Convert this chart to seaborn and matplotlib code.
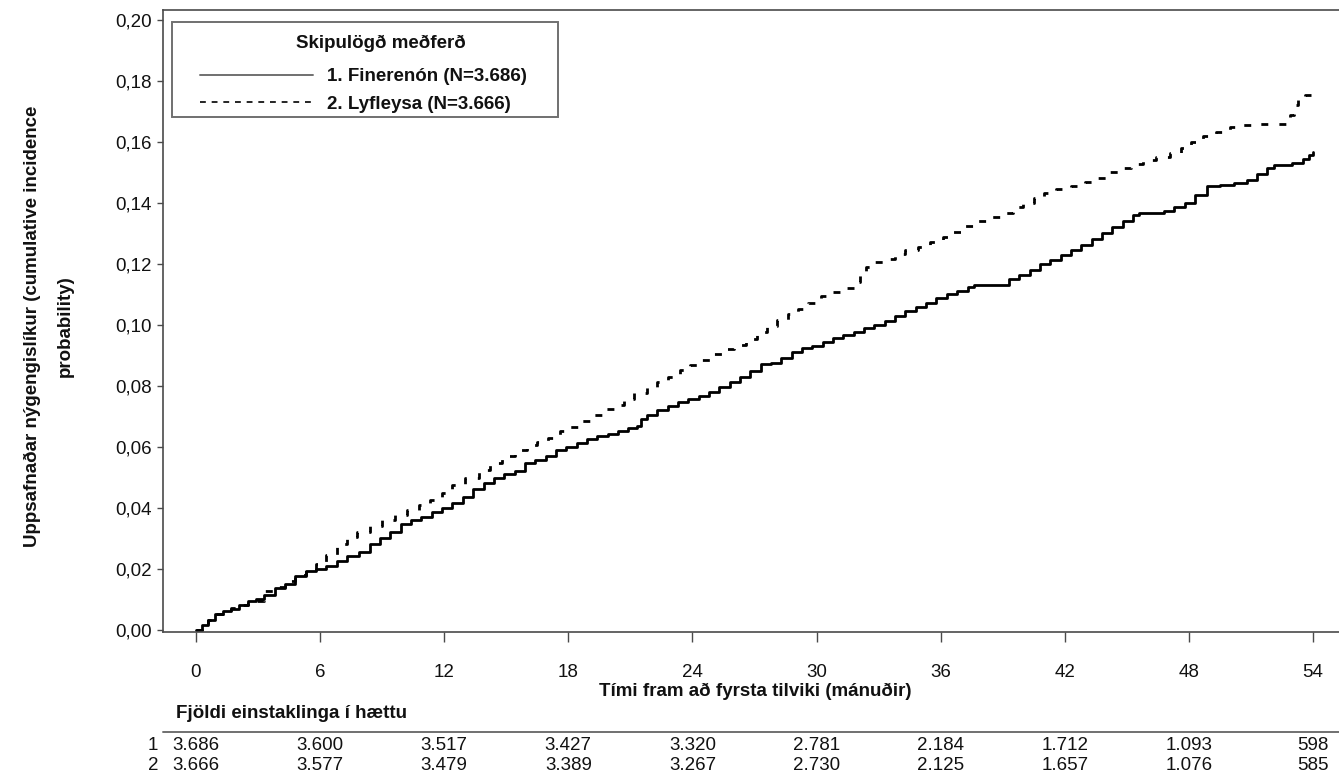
import numpy as np
import pandas as pd
import matplotlib
matplotlib.use("Agg")
import matplotlib.pyplot as plt
import seaborn as sns
from matplotlib.lines import Line2D
from matplotlib.patches import Rectangle
from matplotlib.transforms import blended_transform_factory

# ---------------- data ----------------
time_fin = [0.0, 0.3, 0.6, 0.9, 1.3, 1.7, 2.1, 2.5, 2.9, 3.3, 3.8, 4.3, 4.8, 5.3, 5.8,
            6.3, 6.8, 7.3, 7.9, 8.4, 8.9, 9.4, 9.9, 10.4, 10.9, 11.4, 11.9, 12.4, 12.9,
            13.4, 13.9, 14.4, 14.9, 15.4, 15.9, 16.4, 16.9, 17.4, 17.9, 18.4, 18.9, 19.4,
            19.9, 20.4, 20.9, 21.3, 21.5, 21.8, 22.3, 22.8, 23.3, 23.8, 24.3, 24.8, 25.3,
            25.8, 26.3, 26.8, 27.3, 27.8, 28.3, 28.8, 29.3, 29.8, 30.3, 30.8, 31.3, 31.8,
            32.3, 32.8, 33.3, 33.8, 34.3, 34.8, 35.3, 35.8, 36.3, 36.8, 37.3, 37.6, 38.9,
            39.3, 39.8, 40.3, 40.8, 41.3, 41.8, 42.3, 42.8, 43.3, 43.8, 44.3, 44.8, 45.3,
            45.6, 46.8, 47.3, 47.8, 48.3, 48.9, 49.5, 50.2, 50.8, 51.3, 51.8, 52.1, 53.0,
            53.5, 53.8, 54.0]
cif_fin = [0.0000, 0.0015, 0.0030, 0.0050, 0.0062, 0.0068, 0.0080, 0.0095, 0.0100, 0.0115,
           0.0135, 0.0150, 0.0175, 0.0193, 0.0200, 0.0210, 0.0225, 0.0240, 0.0255, 0.0282,
           0.0300, 0.0320, 0.0345, 0.0358, 0.0370, 0.0385, 0.0398, 0.0415, 0.0435, 0.0460,
           0.0480, 0.0498, 0.0510, 0.0520, 0.0545, 0.0555, 0.0570, 0.0588, 0.0600, 0.0612,
           0.0625, 0.0635, 0.0643, 0.0650, 0.0660, 0.0669, 0.0690, 0.0705, 0.0720, 0.0735,
           0.0748, 0.0758, 0.0765, 0.0780, 0.0795, 0.0812, 0.0830, 0.0850, 0.0871, 0.0875,
           0.0890, 0.0912, 0.0925, 0.0932, 0.0945, 0.0958, 0.0968, 0.0975, 0.0990, 0.1000,
           0.1012, 0.1028, 0.1045, 0.1058, 0.1072, 0.1088, 0.1100, 0.1112, 0.1125, 0.1129,
           0.1132, 0.1150, 0.1165, 0.1180, 0.1200, 0.1214, 0.1230, 0.1245, 0.1262, 0.1280,
           0.1300, 0.1320, 0.1340, 0.1360, 0.1367, 0.1372, 0.1385, 0.1400, 0.1425, 0.1455,
           0.1460, 0.1465, 0.1475, 0.1495, 0.1515, 0.1524, 0.1530, 0.1545, 0.1558, 0.1566]

time_pla = [0.0, 0.3, 0.6, 0.9, 1.3, 1.7, 2.1, 2.5, 2.9, 3.3, 3.8, 4.3, 4.8, 5.3, 5.8,
            6.3, 6.8, 7.3, 7.8, 8.4, 9.0, 9.6, 10.2, 10.8, 11.3, 11.9, 12.4, 13.0, 13.7,
            14.2, 14.8, 15.4, 16.0, 16.5, 17.0, 17.6, 18.1, 18.6, 19.2, 19.7, 20.2, 20.7,
            21.2, 21.8, 22.3, 22.8, 23.4, 23.9, 24.4, 25.0, 25.5, 26.0, 26.6, 27.1, 27.6,
            28.1, 28.6, 29.1, 29.6, 30.2, 30.7, 31.2, 31.8, 32.1, 32.4, 32.8, 33.2, 33.8,
            34.3, 34.9, 35.5, 36.1, 36.6, 37.1, 37.7, 38.3, 38.9, 39.5, 40.0, 40.5, 41.0,
            41.6, 42.3, 43.0, 43.6, 44.0, 44.6, 45.2, 45.8, 46.4, 47.1, 47.6, 48.1, 48.7,
            49.3, 50.0, 50.5, 51.1, 52.7, 52.9, 53.1, 53.3, 53.6, 54.0]
cif_pla = [0.0000, 0.0015, 0.0030, 0.0050, 0.0062, 0.0070, 0.0080, 0.0088, 0.0095, 0.0125,
           0.0140, 0.0160, 0.0178, 0.0195, 0.0215, 0.0245, 0.0280, 0.0305, 0.0320, 0.0340,
           0.0359, 0.0375, 0.0392, 0.0408, 0.0424, 0.0448, 0.0473, 0.0498, 0.0525, 0.0545,
           0.0568, 0.0590, 0.0605, 0.0617, 0.0630, 0.0650, 0.0665, 0.0685, 0.0705, 0.0724,
           0.0738, 0.0755, 0.0775, 0.0796, 0.0812, 0.0830, 0.0852, 0.0868, 0.0885, 0.0905,
           0.0920, 0.0935, 0.0955, 0.0976, 0.0995, 0.1015, 0.1034, 0.1052, 0.1070, 0.1093,
           0.1108, 0.1122, 0.1142, 0.1165, 0.1190, 0.1205, 0.1217, 0.1232, 0.1245, 0.1256,
           0.1272, 0.1289, 0.1305, 0.1325, 0.1340, 0.1355, 0.1367, 0.1385, 0.1400, 0.1415,
           0.1432, 0.1445, 0.1455, 0.1468, 0.1481, 0.1500, 0.1515, 0.1528, 0.1540, 0.1552,
           0.1563, 0.1580, 0.1599, 0.1618, 0.1632, 0.1648, 0.1655, 0.1660, 0.1664, 0.1690,
           0.1720, 0.1742, 0.1755, 0.1755]

x_ticks = [0, 6, 12, 18, 24, 30, 36, 42, 48, 54]
y_ticks = [0.00, 0.02, 0.04, 0.06, 0.08, 0.10, 0.12, 0.14, 0.16, 0.18, 0.20]
y_tick_labels = ["0,00", "0,02", "0,04", "0,06", "0,08", "0,10",
                 "0,12", "0,14", "0,16", "0,18", "0,20"]
risk_fin = ["3.686", "3.600", "3.517", "3.427", "3.320", "2.781", "2.184", "1.712", "1.093", "598"]
risk_pla = ["3.666", "3.577", "3.479", "3.389", "3.267", "2.730", "2.125", "1.657", "1.076", "585"]
risk_rows = ["1", "2"]
series_labels = ["1. Finerenón (N=3.686)", "2. Lyfleysa (N=3.666)"]
legend_title = "Skipulögð meðferð"
x_label = "Tími fram að fyrsta tilviki (mánuðir)"
y_label = "Uppsafnaðar nýgengislíkur (cumulative incidence\nprobability)"
risk_title = "Fjöldi einstaklinga í hættu"

# ---------------- style ----------------
sns.set_theme(style="white")
plt.rcParams['font.family'] = ['Liberation Sans', 'DejaVu Sans']
FS = 13.5
W, H = 1339, 778
spine_c = "#4a4a4a"
txt_c = "#111111"

fig = plt.figure(figsize=(W / 100, H / 100), dpi=100)
fig.patch.set_facecolor("white")
ax = fig.add_axes([163 / W, 1 - 632 / H, (W - 163) / W, (632 - 10) / H])
ax.set_facecolor("white")

df_fin = pd.DataFrame({"t": time_fin, "p": cif_fin})
df_pla = pd.DataFrame({"t": time_pla, "p": cif_pla})
sns.lineplot(data=df_fin, x="t", y="p", ax=ax, color="black", linewidth=2.0,
             drawstyle="steps-post", estimator=None, sort=False, legend=False)
sns.lineplot(data=df_pla, x="t", y="p", ax=ax, color="black", linewidth=2.0,
             linestyle=(0, (2.5, 4.0)), drawstyle="steps-post",
             estimator=None, sort=False, legend=False)

ax.set_xlim(-1.595, 55.26)
ax.set_ylim(-0.0008, 0.2033)
ax.set_xticks(x_ticks)
ax.set_xticklabels([str(v) for v in x_ticks])
ax.set_yticks(y_ticks)
ax.set_yticklabels(y_tick_labels)
ax.tick_params(axis="x", direction="out", length=7, width=1, color=spine_c,
               pad=16, labelsize=FS, labelcolor=txt_c, bottom=True)
ax.tick_params(axis="y", direction="out", length=4.5, width=1, color=spine_c,
               pad=3.5, labelsize=FS, labelcolor=txt_c, left=True)

for side in ["left", "bottom", "top"]:
    ax.spines[side].set_visible(True)
    ax.spines[side].set_color(spine_c)
    ax.spines[side].set_linewidth(1.2)
ax.spines["right"].set_visible(False)
ax.grid(False)

ax.set_xlabel(x_label, fontsize=FS, fontweight="bold", color=txt_c)
ax.xaxis.set_label_coords((755 - 163) / (W - 163), (632 - 691) / 622)
ax.xaxis.label.set_va("center")
ax.set_ylabel(y_label, fontsize=FS, fontweight="bold", color=txt_c,
              linespacing=2.2, multialignment="center")
ax.yaxis.set_label_coords((49 - 163) / (W - 163), (632 - 326) / 622)
ax.yaxis.label.set_va("center")

# legend (entries), its title and its frame
handles = [Line2D([], [], color="#707070", lw=1.4),
           Line2D([], [], color="black", lw=1.2, linestyle=(0, (3.5, 3.5)))]
leg = ax.legend(handles, series_labels, loc="upper left",
                bbox_to_anchor=(200 / W, 1 - 68 / H), bbox_transform=fig.transFigure,
                frameon=False, prop={"size": FS, "weight": "bold"},
                handlelength=6.0, handletextpad=0.75, labelspacing=0.565,
                borderpad=0.0, borderaxespad=0.0)
for t in leg.get_texts():
    t.set_color(txt_c)
fig.text(381 / W, 1 - 43 / H, legend_title, fontsize=FS, fontweight="bold",
         ha="center", va="center", color=txt_c)
fig.add_artist(Rectangle((172 / W, 1 - 117 / H), (558 - 172) / W, (117 - 22) / H,
                         transform=fig.transFigure, fill=False,
                         edgecolor="#707070", linewidth=1.4))

# risk table
trans = blended_transform_factory(ax.transData, fig.transFigure)
fig.text(176 / W, 1 - 713 / H, risk_title, fontsize=FS, fontweight="bold",
         ha="left", va="center", color=txt_c)
fig.add_artist(Line2D([163 / W, 1.0], [1 - 732 / H, 1 - 732 / H],
                      transform=fig.transFigure, color="#707070", lw=1.4))
row_y = [1 - 745 / H, 1 - 766 / H]
for vals, lab, yy in zip([risk_fin, risk_pla], risk_rows, row_y):
    fig.text(153 / W, yy, lab, fontsize=FS, ha="center", va="center", color=txt_c)
    for xv, v in zip(x_ticks, vals):
        ax.text(xv, yy, v, transform=trans, fontsize=FS, ha="center", va="center",
                color=txt_c, clip_on=False)

fig.savefig("out.png", dpi=100, facecolor="white")
